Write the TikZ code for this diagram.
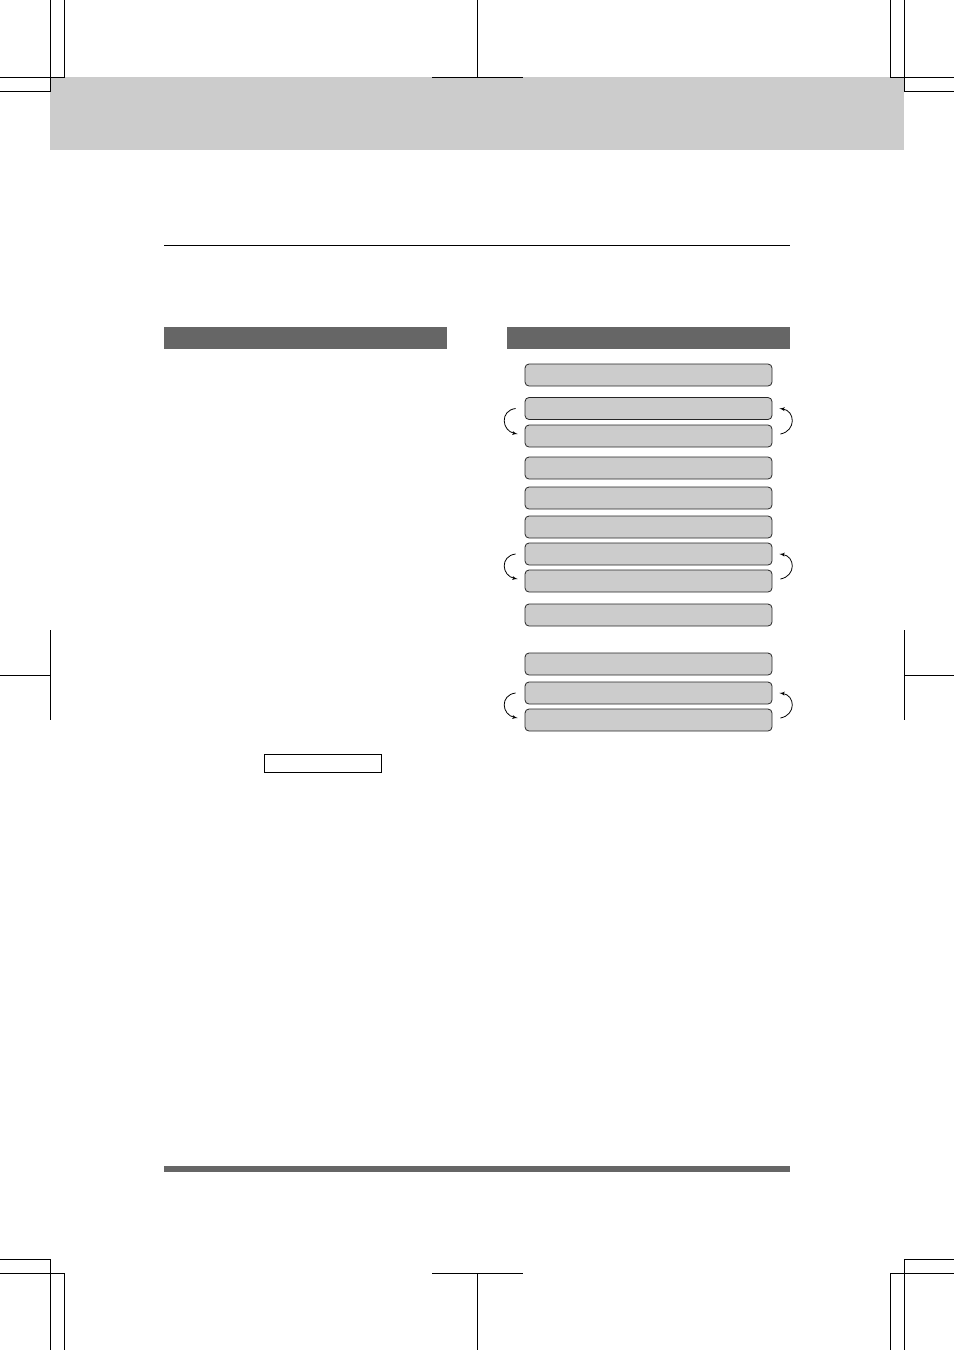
\documentclass[tikz,border=0pt]{standalone}
\usetikzlibrary{positioning,arrows,calc}
\definecolor{bandgray}{HTML}{CCCCCC}
\definecolor{headgray}{HTML}{666666}
\tikzset{
    lcd/.style = {
        draw=black!85,
        fill=bandgray,
        shape=rectangle,
        rounded corners=4pt,
        minimum height=22pt,
        minimum width=247pt,
        line width=0.8pt,
        inner sep=0pt
    },
    header/.style = {
        fill=headgray,
        shape=rectangle,
        minimum height=22pt,
        minimum width=283pt,
        inner sep=0pt
    },
    keybox/.style = {
        draw,
        shape=rectangle,
        minimum height=18pt,
        minimum width=117pt,
        line width=1.2pt,
        inner sep=0pt
    },
    crop/.style = {
        line width=1pt
    },
    scroll/.style = {
        line width=0.8pt
    },
    >=latex',
}

\begin{document}
\begin{tikzpicture}[x=1pt, y=-1pt]
                \useasboundingbox (0,0) rectangle (954,1350);

                % grey band at the top and the rules
                \node[fill=bandgray, minimum width=854pt, minimum height=73pt, inner sep=0pt] (band) at (477,113.5) {};
                \draw[line width=0.8pt] (164,245) -- (790,245);
                \node[header] (headl) at (305.5,338) {};
                \node[header] (headr) at (648.5,338) {};
                \node[fill=headgray, minimum width=626pt, minimum height=6pt, inner sep=0pt] (footbar) at (477,1169) {};

                % crop marks
                \draw[crop] (50,0) -- (50,91) -- (0,91);
                \draw[crop] (64,0) -- (64,77) -- (0,77);
                \draw[crop] (904,0) -- (904,91) -- (954,91);
                \draw[crop] (890,0) -- (890,77) -- (954,77);
                \draw[crop] (477,0) -- (477,77);
                \draw[crop] (432,77) -- (523,77);
                \draw[crop] (50,1350) -- (50,1259) -- (0,1259);
                \draw[crop] (64,1350) -- (64,1273) -- (0,1273);
                \draw[crop] (904,1350) -- (904,1259) -- (954,1259);
                \draw[crop] (890,1350) -- (890,1273) -- (954,1273);
                \draw[crop] (477,1350) -- (477,1273);
                \draw[crop] (432,1273) -- (523,1273);
                \draw[crop] (50,630) -- (50,720);
                \draw[crop] (0,675) -- (50,675);
                \draw[crop] (904,630) -- (904,720);
                \draw[crop] (904,675) -- (954,675);

                % display lines
                \node[lcd] (lcd1) at (648.5,375) {};
                \node[lcd] (lcd2) at (648.5,408.5) {};
                \node[lcd] (lcd3) at (648.5,436) {};
                \node[lcd] (lcd4) at (648.5,468) {};
                \node[lcd] (lcd5) at (648.5,498) {};
                \node[lcd] (lcd6) at (648.5,527) {};
                \node[lcd] (lcd7) at (648.5,554) {};
                \node[lcd] (lcd8) at (648.5,581) {};
                \node[lcd] (lcd9) at (648.5,615) {};
                \node[lcd] (lcd10) at (648.5,664) {};
                \node[lcd] (lcd11) at (648.5,693) {};
                \node[lcd] (lcd12) at (648.5,720) {};

                \node[keybox] (key) at (323,763.5) {};

                % scroll arrows
                \foreach \a/\b in {lcd2/lcd3, lcd7/lcd8, lcd11/lcd12}{
                    \path[draw, scroll, ->] ($(\a.west)+(-9,0)$) .. controls +(-16,2) and +(-16,-3) .. ($(\b.west)+(-7,-2)$);
                    \path[draw, scroll, ->] ($(\b.east)+(8,-2)$) .. controls +(16,-3) and +(16,2) .. ($(\a.east)+(7,0)$);
                }
            \end{tikzpicture}
\end{document}
